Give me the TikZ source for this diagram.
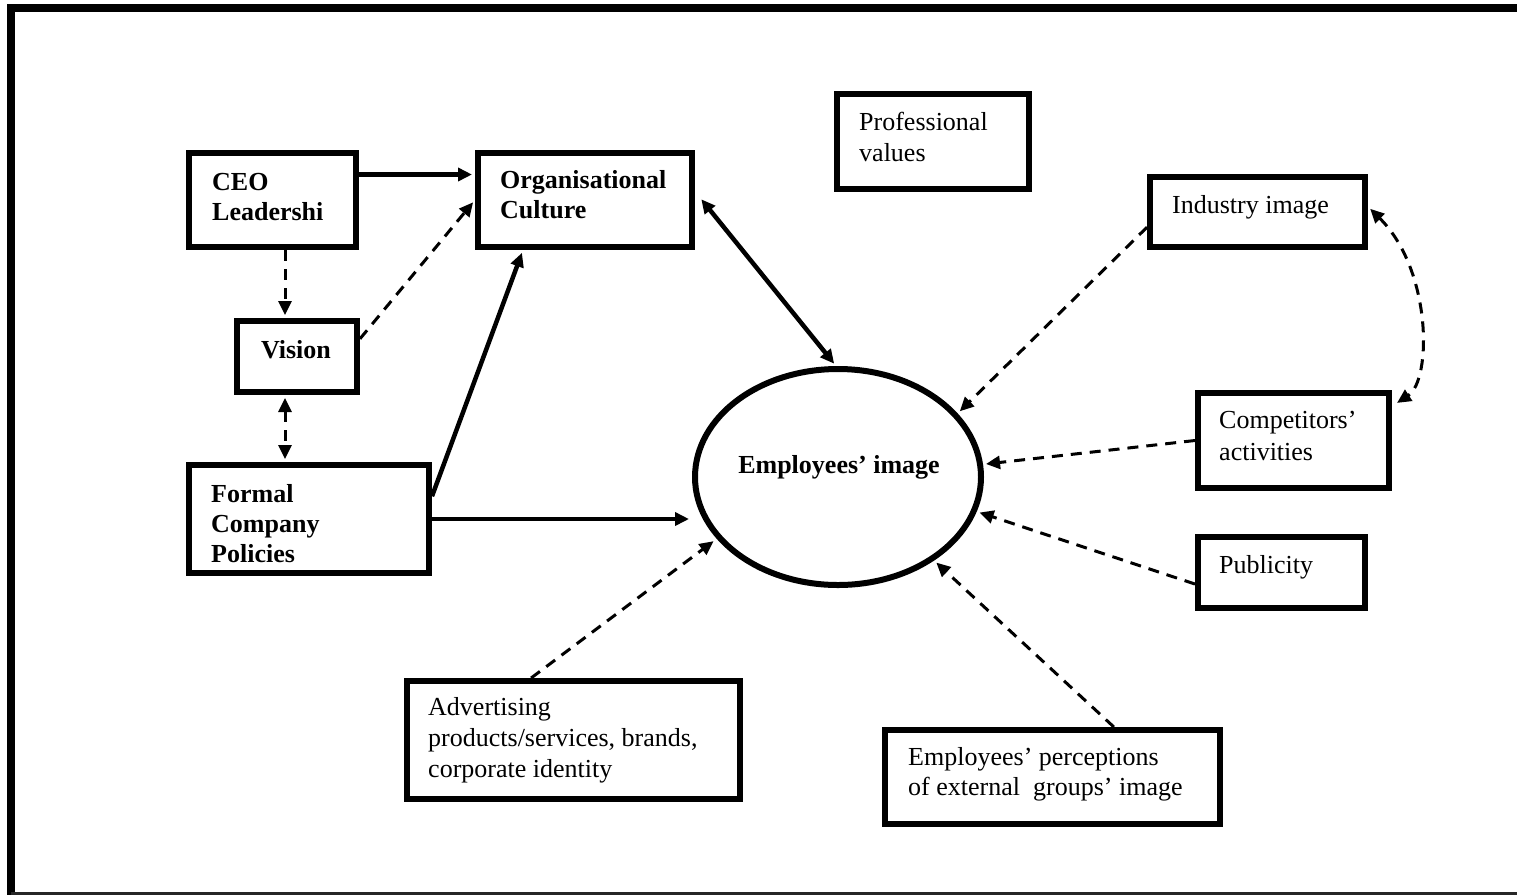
\documentclass[tikz,border=0pt]{standalone}
\usepackage{fontspec}
\setmainfont{Liberation Serif}
\usetikzlibrary{arrows.meta,shapes.geometric,calc}
% stacked left-aligned lines whose first baseline is the node's base
\newcommand\stack[2]{\fontsize{26pt}{#1pt}\selectfont\begin{tabular}[t]{@{}l@{}}#2\end{tabular}}

\begin{document}
\begin{tikzpicture}[x=1pt,y=-1pt,
  >={Triangle[length=14pt,width=13pt]},
  box/.style={draw, rectangle, line width=6pt, inner sep=0pt},
  lbl/.style={inner sep=0pt, anchor=base west, font=\fontsize{26pt}{30pt}\selectfont},
  lblb/.style={inner sep=0pt, anchor=base west, font=\bfseries\fontsize{26pt}{30pt}\selectfont},
  solidarrow/.style={line width=4.5pt, ->},
  dasharrow/.style={line width=3pt, dash pattern=on 11pt off 8pt, ->}]

\path[use as bounding box] (0,0) rectangle (1517,895);

% outer frame
\draw[line width=8.5pt] (7,8) -- (1517,8);
\draw[line width=8.5pt] (11,4) -- (11,895);
\draw[line width=3pt, black!85] (11,893) -- (1517,893);

% boxes
\node[box, minimum width=167pt, minimum height=94pt] (ceo) at (272.5,200) {};
\node[box, minimum width=214pt, minimum height=94pt] (org) at (585,200) {};
\node[box, minimum width=192pt, minimum height=95pt] (prof) at (933,141.5) {};
\node[box, minimum width=120pt, minimum height=71pt] (vision) at (297,356.5) {};
\node[box, minimum width=240pt, minimum height=108pt] (formal) at (309,519) {};
\node[box, minimum width=215pt, minimum height=70pt] (industry) at (1257.5,212) {};
\node[box, minimum width=191pt, minimum height=95pt] (comp) at (1293.5,440.5) {};
\node[box, minimum width=167pt, minimum height=71pt] (pub) at (1281.5,572.5) {};
\node[box, minimum width=333pt, minimum height=118pt] (adv) at (573.5,740) {};
\node[box, minimum width=335pt, minimum height=94pt] (perc) at (1052.5,777) {};
\node[draw, ellipse, line width=6pt, inner sep=0pt, minimum width=286pt, minimum height=216pt] (emp) at (838,477) {};

% box texts
\node[lblb] (ceo-t) at (212,190) {\stack{30}{CEO\\Leadershi}};
\node[lblb] (org-t) at (500,188) {\stack{30}{Organisational\\Culture}};
\node[lbl] (prof-t) at (859,130) {\stack{31}{Professional\\values}};
\node[lblb, anchor=base] (vision-t) at (296,358) {Vision};
\node[lblb] (formal-t) at (211,502) {\stack{30}{Formal\\Company\\Policies}};
\node[lbl] (industry-t) at (1172,213) {Industry image};
\node[lbl] (comp-t) at (1219,428) {\stack{32}{Competitors’\\activities}};
\node[lbl] (pub-t) at (1219,573) {Publicity};
\node[lbl] (adv-t) at (428,715) {\stack{31}{Advertising\\products/services, brands,\\corporate identity}};
\node[lbl] (perc-t) at (908,765) {\stack{30}{Employees’ perceptions\\of external\ \ groups’ image}};
\node[lblb, anchor=base] (emp-t) at (839,473) {Employees’ image};

% connectors
\coordinate (ax) at (285,0);
\draw[solidarrow, shorten >=3pt] ($(ceo.north east)!0.245!(ceo.south east)$) -- ($(org.north west)!0.245!(org.south west)$);
\draw[dasharrow, shorten >=3pt] (ax |- ceo.south) -- (ax |- vision.north);
\draw[dasharrow, <->, shorten <=3pt, shorten >=3pt] (ax |- vision.south) -- (ax |- formal.north);
\draw[dasharrow, shorten >=3pt] ($(vision.north east)!0.27!(vision.south east)$) -- (org.west);
\draw[solidarrow, shorten >=3pt] ($(formal.north east)!0.3!(formal.south east)$) -- ($(org.south)+(-62,0)$);
\draw[solidarrow, shorten >=3pt] (formal.east) -- (formal.east -| emp.west);
\draw[solidarrow, <->, shorten <=10pt, shorten >=3pt] ($(org.north east)!0.415!(org.south east)$) -- (emp.91);
\draw[dasharrow, shorten >=3pt] ($(industry.north west)!0.7!(industry.south west)$) -- (emp.28);
\draw[dasharrow, shorten >=3pt] (comp.west) -- (emp.5);
\draw[dasharrow, shorten >=3pt] ($(pub.north west)!0.65!(pub.south west)$) -- (emp.346);
\draw[dasharrow, shorten >=4pt] ($(adv.north west)!0.375!(adv.north east)$) -- (emp.207);
\draw[dasharrow, shorten >=3pt] ($(perc.north west)!0.68!(perc.north east)$) -- (emp.319);
\draw[dasharrow, <->, shorten <=3pt, shorten >=6pt] ($(industry.north east)!0.43!(industry.south east)$) .. controls (1432,270) and (1432,380) .. ($(comp.north east)!0.16!(comp.south east)$);
\end{tikzpicture}
\end{document}
